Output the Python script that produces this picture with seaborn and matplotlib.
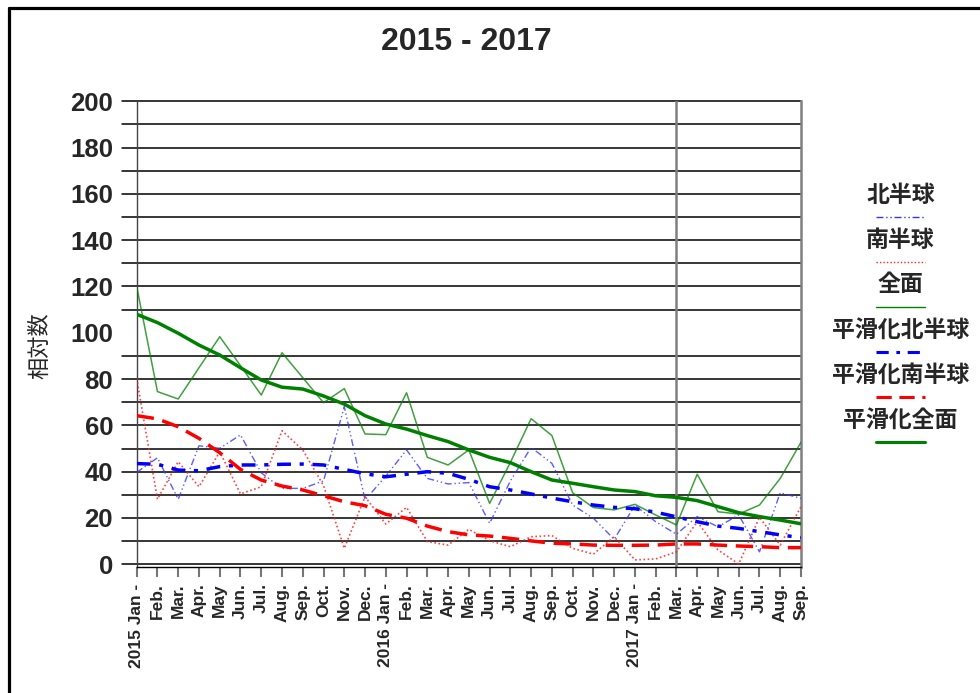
import matplotlib
matplotlib.use("Agg")
import matplotlib.pyplot as plt
from matplotlib.lines import Line2D
import seaborn as sns
import pandas as pd

# ---------------- data ----------------
months = ["2015 Jan -", "Feb.", "Mar.", "Apr.", "May", "Jun.", "Jul.", "Aug.", "Sep.", "Oct.", "Nov.", "Dec.",
          "2016 Jan -", "Feb.", "Mar.", "Apr.", "May", "Jun.", "Jul.", "Aug.", "Sep.", "Oct.", "Nov.", "Dec.",
          "2017 Jan -", "Feb.", "Mar.", "Apr.", "May", "Jun.", "Jul.", "Aug.", "Sep."]

north = [39.7, 46.0, 28.1, 51.2, 50.1, 55.9, 39.5, 32.8, 32.8, 36.0, 68.1, 27.8,
         38.1, 49.4, 37.1, 34.7, 35.3, 17.7, 36.0, 50.5, 43.6, 25.6, 19.9, 10.8,
         25.5, 18.4, 13.0, 20.6, 16.2, 21.3, 5.4, 30.9, 28.5]
south = [80.3, 28.1, 44.3, 33.5, 48.6, 30.4, 33.5, 57.7, 49.4, 34.0, 6.9, 29.2,
         17.4, 24.6, 9.8, 8.3, 15.1, 10.2, 7.6, 11.9, 12.4, 6.9, 4.4, 11.9,
         1.9, 2.3, 5.4, 18.4, 6.2, 0.1, 20.3, 8.3, 24.9]
total = [120.0, 74.6, 71.4, 84.9, 98.3, 85.8, 73.1, 91.4, 80.6, 69.8, 75.9, 56.3,
         56.0, 74.1, 46.2, 42.9, 49.4, 26.3, 44.0, 62.9, 55.6, 30.9, 24.5, 23.5,
         25.9, 21.3, 17.0, 38.9, 22.7, 21.7, 25.6, 37.1, 52.7]
smooth_north = [43.5, 43.2, 40.7, 40.4, 42.2, 42.9, 42.9, 43.2, 43.3, 42.9, 41.0, 39.1,
                37.8, 38.9, 40.0, 39.3, 36.7, 33.5, 32.1, 30.4, 28.6, 27.0, 25.6, 24.6,
                24.0, 22.5, 20.5, 18.4, 16.5, 15.5, 14.1, 12.7, 11.5]
smooth_south = [64.2, 62.8, 59.4, 54.4, 48.2, 41.0, 36.4, 33.8, 32.1, 29.6, 27.0, 25.3,
                21.6, 19.9, 16.5, 14.1, 12.7, 12.2, 11.2, 10.1, 9.1, 8.8, 8.3, 8.2,
                8.2, 8.3, 8.8, 8.8, 8.3, 7.9, 7.6, 7.2, 7.2]
smooth_total = [108.0, 104.4, 99.8, 94.7, 90.4, 84.9, 79.6, 76.5, 75.7, 72.7, 69.2, 64.2,
                60.6, 58.4, 55.6, 53.0, 49.4, 46.2, 43.9, 40.0, 36.4, 35.0, 33.5, 32.1,
                31.4, 29.6, 28.9, 27.5, 24.9, 22.3, 20.6, 19.1, 17.5]

series_names = ["北半球", "南半球", "全面", "平滑化北半球", "平滑化南半球", "平滑化全面"]
grid_values = [v for v in range(0, 201, 10) if v != 100]
y_label_ticks = list(range(0, 201, 20))

df = pd.DataFrame({"idx": list(range(len(months))),
                   series_names[0]: north, series_names[1]: south, series_names[2]: total,
                   series_names[3]: smooth_north, series_names[4]: smooth_south,
                   series_names[5]: smooth_total})

# ---------------- style ----------------
sns.set_theme(style="white")
plt.rcParams["font.family"] = ["Liberation Sans", "Noto Sans CJK JP", "DejaVu Sans"]
CJK = ["Noto Sans CJK JP", "DejaVu Sans"]

styles = {
    "北半球":       dict(color="#3333ff", lw=1.0, ls=(0, (5, 2, 1, 2, 1, 2)), alpha=0.8),
    "南半球":       dict(color="#ff2222", lw=1.2, ls=(0, (1, 1.5)), alpha=0.85),
    "全面":         dict(color="#008000", lw=1.1, ls="-", alpha=0.75),
    "平滑化北半球": dict(color="#0000ff", lw=2.5, ls=(0, (4, 2.5, 1.2, 2.5)), alpha=1.0),
    "平滑化南半球": dict(color="#ff0000", lw=2.5, ls=(0, (5, 2.5)), alpha=1.0),
    "平滑化全面":   dict(color="#008000", lw=2.5, ls="-", alpha=1.0),
}

W, H = 980, 693
fig = plt.figure(figsize=(9.8, 6.93), dpi=100)
ax_l, ax_r, ax_t, ax_b = 136.7, 801.0, 101.3, 567.3
ax = fig.add_axes([ax_l / W, 1 - ax_b / H, (ax_r - ax_l) / W, (ax_b - ax_t) / H])

# grid lines (extend left of the axis like tick marks)
ext = 14.5 / (ax_r - ax_l)
for g in grid_values:
    ax.axhline(g, xmin=-ext, xmax=1, color="black", lw=1.1, clip_on=False, zorder=1)
ax.axvline(26, color="#808080", lw=1.8, zorder=1)

for name in series_names:
    st = styles[name]
    sns.lineplot(data=df, x="idx", y=name, ax=ax, color=st["color"], lw=st["lw"],
                 linestyle=st["ls"], alpha=st["alpha"], zorder=3)

ax.set_xlim(0, len(months) - 1)
ax.set_ylim(-1.3, 200)
ax.set_xlabel("")
ax.set_ylabel("")

ax.set_xticks(range(len(months)))
ax.set_xticklabels(months, rotation=90, fontsize=12.5, fontweight="bold")
ax.set_yticks(y_label_ticks)
ax.set_yticklabels([str(v) for v in y_label_ticks], fontsize=18.5, fontweight="bold")
ax.tick_params(axis="x", direction="out", length=7.5, width=1.5, color="#777777", pad=4,
               bottom=True)
ax.tick_params(axis="y", length=0, pad=17, left=True)

ax.spines["top"].set_visible(False)
ax.spines["left"].set_color("#444444")
ax.spines["left"].set_linewidth(1.0)
ax.spines["right"].set_color("#808080")
ax.spines["right"].set_linewidth(1.8)
ax.spines["bottom"].set_color("black")
ax.spines["bottom"].set_linewidth(1.0)

# title and y label
fig.text(466 / W, 1 - 42 / H, "2015 - 2017", ha="center", va="center",
         fontsize=23, fontweight="bold")
fig.text(40 / W, 1 - 346 / H, "相対数", ha="center", va="center", rotation=90,
         fontsize=16, family=CJK)

# legend (text above line sample)
text_y = [195, 240.5, 285, 330, 375, 420]
line_y = [217.3, 262.3, 306.7, 351.7, 396.7, 441.7]
for name, ty, ly in zip(series_names, text_y, line_y):
    st = styles[name]
    fig.text(900.5 / W, 1 - ty / H, name, ha="center", va="center", fontsize=16.5,
             fontweight="bold", family=CJK)
    fig.add_artist(Line2D([876 / W, 925 / W], [1 - ly / H, 1 - ly / H],
                          color=st["color"], lw=2.2 if st["lw"] > 2 else 1.0,
                          linestyle=st["ls"], transform=fig.transFigure))

# figure border (left and top)
fig.add_artist(Line2D([8.5 / W, 8.5 / W], [0, 1 - 7.5 / H], color="black", lw=2.3,
                      transform=fig.transFigure))
fig.add_artist(Line2D([8.5 / W, 1], [1 - 7.5 / H, 1 - 7.5 / H], color="black", lw=2.3,
                      transform=fig.transFigure))

fig.savefig("out.png", dpi=100)
